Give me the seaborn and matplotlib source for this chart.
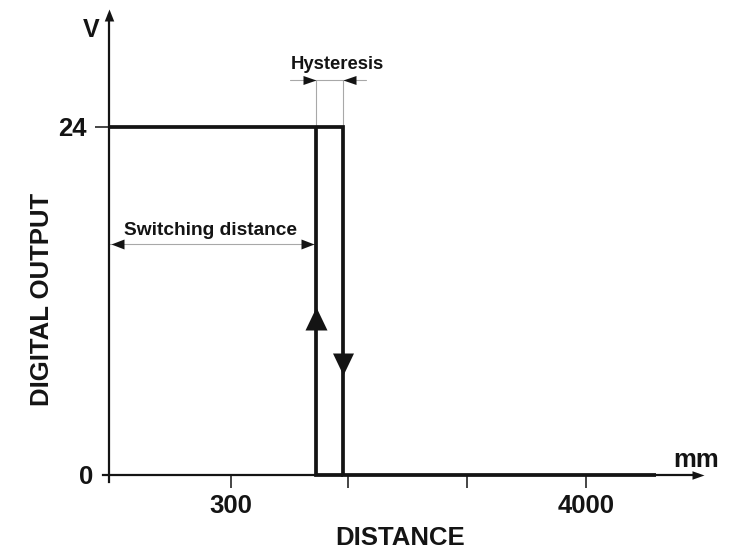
import numpy as np
import pandas as pd
import matplotlib
matplotlib.use("Agg")
import matplotlib.pyplot as plt
import seaborn as sns

# ---------------- data ----------------
x_tick_pos = [1.02, 2.0, 3.0, 4.0]
x_tick_labels = ["300", "", "", "4000"]
y_tick_pos = [24]
y_tick_labels = ["24"]
y_zero_label = ["0"]

v_high = 24          # digital output high level (V)
v_low = 0
switch_on = 1.74     # switching distance (object approaching)
switch_off = 1.965   # release point (hysteresis)
x_end = 4.59         # end of drawn output curve
x_axis_end = 4.99    # arrow tip of distance axis
y_axis_end = 32.07   # arrow tip of voltage axis

arrow_up_tip = 11.57     # direction arrow on the switching edge
arrow_down_tip = 6.89    # direction arrow on the release edge
hyst_y = 27.2            # level of the hysteresis dimension line
switch_dim_y = 15.9      # level of the switching-distance dimension line

# curve segments
seg_names = ["release"] * 4 + ["approach"] * 3
seg_x = [0, switch_off, switch_off, x_end, switch_off, switch_on, switch_on]
seg_y = [v_high, v_high, v_low, v_low, v_low, v_low, v_high]
curve = pd.DataFrame({"segment": seg_names, "distance": seg_x, "output": seg_y})

# ---------------- styling ----------------
sns.set_style("white")
plt.rcParams["font.family"] = ["Liberation Sans", "DejaVu Sans"]
plt.rcParams["font.weight"] = "bold"
INK = "#141414"
GUIDE = "#a8a8a8"

W, H = 732, 554
fig = plt.figure(figsize=(W / 100, H / 100), dpi=100)
ax = fig.add_axes([0, 0, 1, 1])

# pixel mapping: x=0 at px 109, 119.25 px/unit ; y=0 at px 475 (from top), 14.52 px/V
sx, x0 = 119.25, 109
sy, y0 = 14.52, 475
ax.set_xlim(-x0 / sx, (W - x0) / sx)
ax.set_ylim(-(H - y0) / sy, y0 / sy)

# main hysteresis curve
sns.lineplot(data=curve, x="distance", y="output", units="segment",
             estimator=None, sort=False, color=INK, lw=2.7, ax=ax,
             solid_joinstyle="miter", solid_capstyle="butt")


def head(x, y, direction, length_px, width_px, color=INK):
    w = width_px / 2 / length_px
    verts = {"right": [(0, 0), (-1, w), (-1, -w), (0, 0)],
             "left": [(0, 0), (1, w), (1, -w), (0, 0)],
             "up": [(0, 0), (w, -1), (-w, -1), (0, 0)],
             "down": [(0, 0), (w, 1), (-w, 1), (0, 0)]}[direction]
    ax.plot([x], [y], marker=np.array(verts), ms=2 * length_px * 0.72,
            color=color, mew=0, ls="none", zorder=5)


# axes as spines through the origin
for s in ["top", "right"]:
    ax.spines[s].set_visible(False)
ax.spines["left"].set_position(("data", 0))
ax.spines["bottom"].set_position(("data", 0))
ax.spines["left"].set_bounds(-0.48, y_axis_end - 0.4)
ax.spines["bottom"].set_bounds(-0.05, x_axis_end - 0.05)
for s in ["left", "bottom"]:
    ax.spines[s].set_color(INK)
    ax.spines[s].set_linewidth(1.6)
head(0, y_axis_end, "up", 12, 9.5)
head(x_axis_end, 0, "right", 12, 8.5)

# ticks
ax.set_xticks(x_tick_pos, labels=x_tick_labels)
ax.set_yticks(y_tick_pos, labels=y_tick_labels)
ax.set_yticks([v_low], labels=y_zero_label, minor=True)
ax.tick_params(axis="x", which="major", direction="out", length=9.4, width=1.1,
               color=INK, pad=4, labelsize=18.5, labelcolor=INK, bottom=True)
ax.tick_params(axis="y", which="major", direction="out", length=10, width=1.1,
               color=INK, pad=5.8, labelsize=18.5, labelcolor=INK, left=True)
ax.tick_params(axis="y", which="minor", length=0, pad=11.5,
               labelsize=18.5, labelcolor=INK, left=True)
for lab in ax.get_xticklabels() + ax.get_yticklabels() + ax.get_yticklabels(minor=True):
    lab.set_fontweight("bold")

# axis titles
ax.set_xlabel("DISTANCE", fontsize=18.5, fontweight="bold", color=INK, va="center")
ax.xaxis.set_label_coords(400 / W, (H - 538) / H)
ax.set_ylabel("DIGITAL OUTPUT", fontsize=18.5, fontweight="bold", color=INK, va="center")
ax.yaxis.set_label_coords(42.5 / W, (H - 299) / H)

ax.text(-0.151, 30.19, "V", fontsize=18, fontweight="bold", color=INK,
        ha="center", va="baseline")
ax.text(4.922, 0.57, "mm", fontsize=18.5, fontweight="bold", color=INK,
        ha="center", va="baseline")

# direction arrows on the edges
head(switch_on, arrow_up_tip, "up", 23, 22)
head(switch_off, arrow_down_tip, "down", 22, 21)

# hysteresis dimension
ax.plot([1.518, 2.155], [hyst_y, hyst_y], color=GUIDE, lw=0.8, zorder=1)
for xv in [switch_on, switch_off]:
    ax.plot([xv, xv], [hyst_y, v_high], color=GUIDE, lw=0.8, zorder=1)
head(switch_on, hyst_y, "right", 13, 9)
head(switch_off, hyst_y, "left", 13, 9)
ax.text(1.912, 27.96, "Hysteresis", fontsize=13.3, fontweight="bold",
        color=INK, ha="center", va="baseline")

# switching distance dimension
ax.plot([0, switch_on], [switch_dim_y, switch_dim_y], color=GUIDE, lw=0.8, zorder=1)
head(0.02, switch_dim_y, "left", 13, 10)
head(switch_on - 0.02, switch_dim_y, "right", 13, 10)
ax.text(0.851, 16.53, "Switching distance", fontsize=13.8, fontweight="bold",
        color=INK, ha="center", va="baseline")

fig.savefig("out.png", dpi=100)
